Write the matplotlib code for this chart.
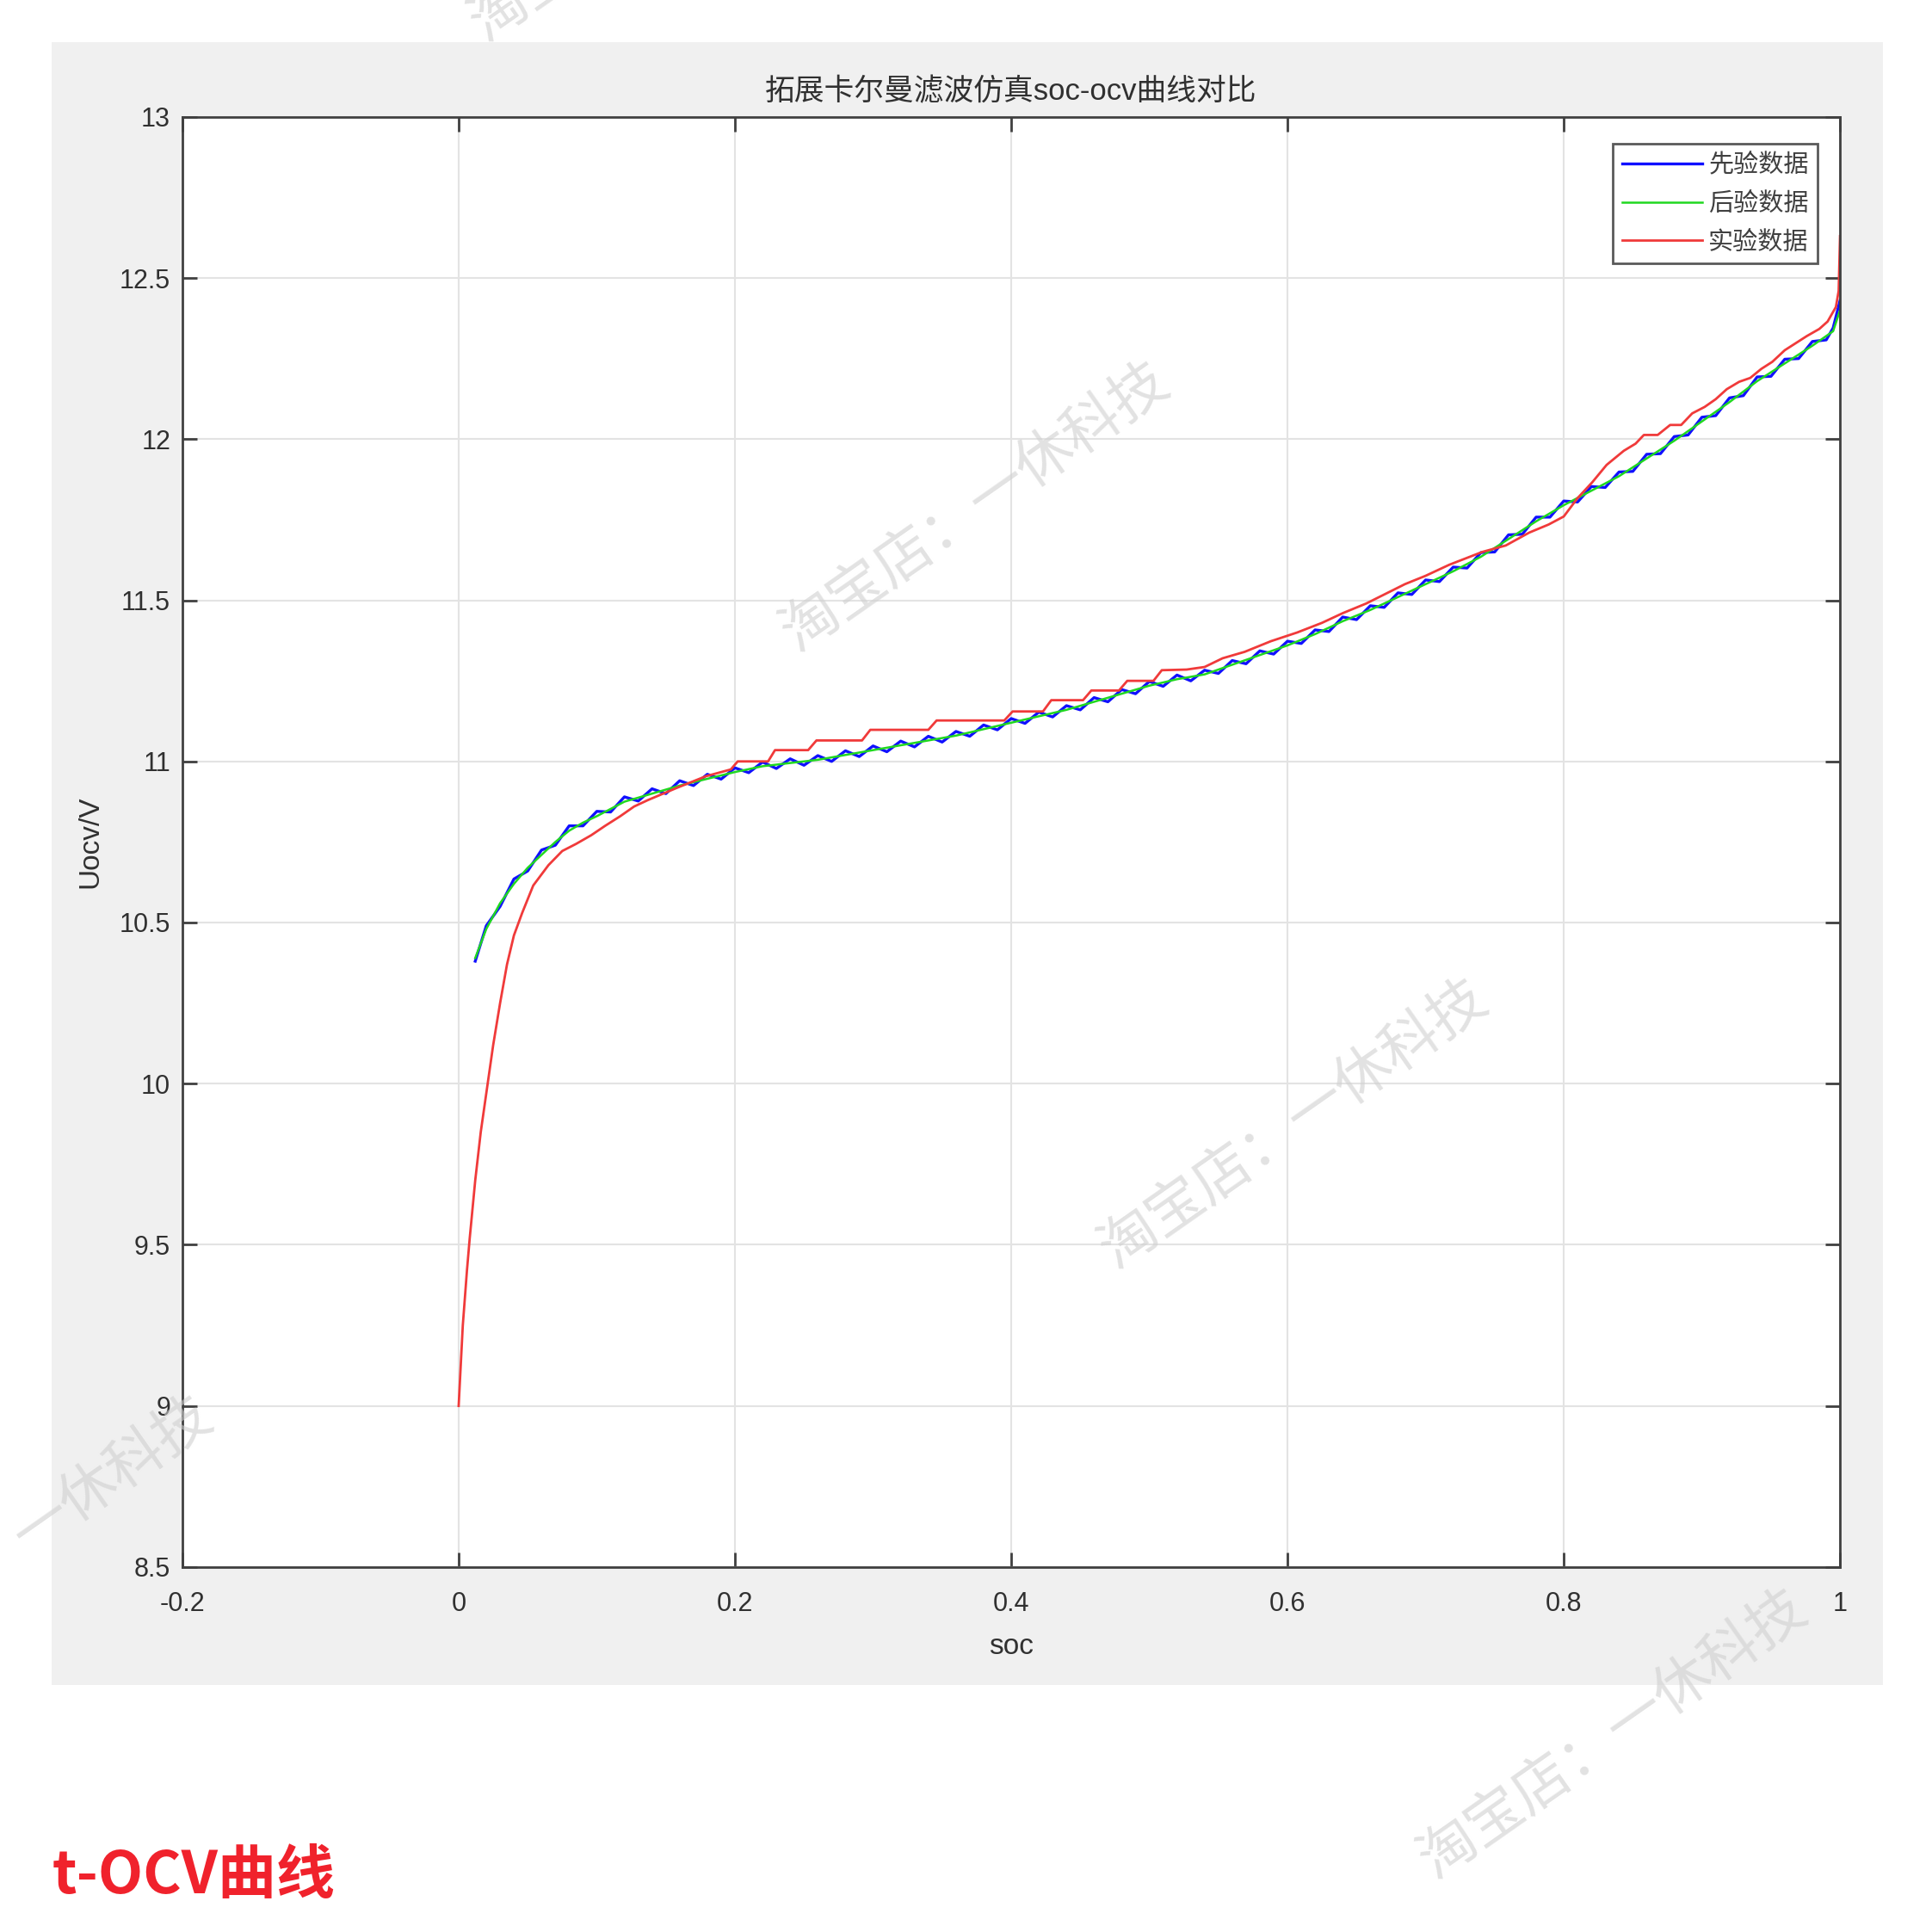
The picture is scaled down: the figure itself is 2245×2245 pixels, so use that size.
import numpy as np
import matplotlib
matplotlib.use('Agg')
import matplotlib.pyplot as plt
from matplotlib.patches import Rectangle

plt.rcParams['font.family'] = ['Liberation Sans', 'Noto Sans CJK SC', 'DejaVu Sans']

# 先验数据 (蓝色, 带噪声)
prior_soc = [0.012, 0.02, 0.03, 0.04, 0.05, 0.06, 0.07, 0.08, 0.09, 0.10,
             0.11, 0.12, 0.13, 0.14, 0.15, 0.16, 0.17, 0.18, 0.19, 0.20,
             0.21, 0.22, 0.23, 0.24, 0.25, 0.26, 0.27, 0.28, 0.29, 0.30,
             0.31, 0.32, 0.33, 0.34, 0.35, 0.36, 0.37, 0.38, 0.39, 0.40,
             0.41, 0.42, 0.43, 0.44, 0.45, 0.46, 0.47, 0.48, 0.49, 0.50,
             0.51, 0.52, 0.53, 0.54, 0.55, 0.56, 0.57, 0.58, 0.59, 0.60,
             0.61, 0.62, 0.63, 0.64, 0.65, 0.66, 0.67, 0.68, 0.69, 0.70,
             0.71, 0.72, 0.73, 0.74, 0.75, 0.76, 0.77, 0.78, 0.79, 0.80,
             0.81, 0.82, 0.83, 0.84, 0.85, 0.86, 0.87, 0.88, 0.89, 0.90,
             0.91, 0.92, 0.93, 0.94, 0.95, 0.96, 0.97, 0.98, 0.99, 0.995, 1.0]
prior_v = [10.38, 10.49, 10.55, 10.635, 10.66, 10.725, 10.74, 10.80, 10.80, 10.845,
           10.843, 10.89, 10.877, 10.915, 10.90, 10.94, 10.925, 10.96, 10.945, 10.98,
           10.965, 10.998, 10.978, 11.008, 10.988, 11.018, 11.0, 11.033, 11.015, 11.048,
           11.03, 11.063, 11.045, 11.078, 11.06, 11.093, 11.078, 11.113, 11.098, 11.133,
           11.118, 11.153, 11.138, 11.173, 11.16, 11.198, 11.185, 11.223, 11.21, 11.248,
           11.233, 11.268, 11.25, 11.283, 11.273, 11.313, 11.303, 11.343, 11.333, 11.373,
           11.366, 11.408, 11.403, 11.448, 11.44, 11.483, 11.478, 11.523, 11.518, 11.563,
           11.558, 11.603, 11.60, 11.648, 11.65, 11.703, 11.705, 11.758, 11.758, 11.808,
           11.805, 11.853, 11.85, 11.898, 11.90, 11.953, 11.955, 12.008, 12.013, 12.068,
           12.073, 12.128, 12.135, 12.193, 12.195, 12.248, 12.25, 12.303, 12.308, 12.345, 12.43]

# 后验数据 (绿色)
post_soc = [0.012, 0.02, 0.03, 0.04, 0.05, 0.06, 0.07, 0.08, 0.09, 0.10,
            0.12, 0.14, 0.16, 0.18, 0.20, 0.22, 0.24, 0.26, 0.28, 0.30,
            0.32, 0.34, 0.36, 0.38, 0.40, 0.42, 0.44, 0.46, 0.48, 0.50,
            0.52, 0.54, 0.56, 0.58, 0.60, 0.62, 0.64, 0.66, 0.68, 0.70,
            0.72, 0.74, 0.76, 0.78, 0.80, 0.82, 0.84, 0.86, 0.88, 0.90,
            0.92, 0.94, 0.96, 0.98, 0.995, 1.0]
post_v = [10.39, 10.48, 10.56, 10.62, 10.67, 10.71, 10.75, 10.785, 10.81, 10.83,
          10.875, 10.90, 10.925, 10.946, 10.967, 10.985, 10.995, 11.005, 11.02, 11.035,
          11.05, 11.065, 11.08, 11.10, 11.12, 11.14, 11.16, 11.185, 11.21, 11.235,
          11.255, 11.27, 11.30, 11.33, 11.36, 11.395, 11.435, 11.47, 11.51, 11.55,
          11.59, 11.635, 11.69, 11.745, 11.795, 11.84, 11.885, 11.94, 11.995, 12.055,
          12.115, 12.18, 12.235, 12.29, 12.335, 12.40]

# 实验数据 (红色, 阶梯状)
exp_soc = [0.0, 0.003, 0.006, 0.008, 0.012, 0.016, 0.020, 0.025, 0.030, 0.035,
           0.040, 0.046, 0.054, 0.065, 0.075, 0.085, 0.096, 0.106, 0.117, 0.127,
           0.137, 0.158, 0.179, 0.197, 0.202, 0.224, 0.229, 0.253, 0.259, 0.292,
           0.298, 0.340, 0.346, 0.395, 0.401, 0.423, 0.429, 0.452, 0.458, 0.478,
           0.484, 0.503, 0.509, 0.527, 0.540, 0.553, 0.569, 0.588, 0.607, 0.625,
           0.640, 0.657, 0.671, 0.685, 0.700, 0.717, 0.729, 0.741, 0.758, 0.775,
           0.789, 0.800, 0.810, 0.8206, 0.831, 0.8435, 0.852, 0.858, 0.868, 0.877,
           0.885, 0.893, 0.902, 0.910, 0.918, 0.927, 0.935, 0.943, 0.951, 0.960,
           0.968, 0.976, 0.985, 0.991, 0.997, 0.999, 1.0]
exp_v = [9.00, 9.25, 9.42, 9.52, 9.70, 9.85, 9.97, 10.12, 10.25, 10.37,
         10.46, 10.53, 10.615, 10.678, 10.722, 10.744, 10.771, 10.80, 10.83, 10.86,
         10.88, 10.918, 10.954, 10.975, 11.0, 11.0, 11.035, 11.035, 11.065, 11.065,
         11.098, 11.098, 11.127, 11.127, 11.155, 11.155, 11.19, 11.19, 11.22, 11.22,
         11.25, 11.25, 11.283, 11.285, 11.293, 11.32, 11.34, 11.373, 11.40, 11.43,
         11.46, 11.49, 11.52, 11.55, 11.576, 11.61, 11.63, 11.65, 11.67, 11.71,
         11.735, 11.76, 11.817, 11.866, 11.92, 11.964, 11.986, 12.013, 12.013, 12.044,
         12.044, 12.08, 12.10, 12.124, 12.155, 12.178, 12.19, 12.218, 12.24, 12.276,
         12.298, 12.32, 12.342, 12.365, 12.41, 12.46, 12.63]

x_ticks = [-0.2, 0, 0.2, 0.4, 0.6, 0.8, 1]
x_tick_labels = ['-0.2', '0', '0.2', '0.4', '0.6', '0.8', '1']
y_ticks = [8.5, 9, 9.5, 10, 10.5, 11, 11.5, 12, 12.5, 13]
y_tick_labels = ['8.5', '9', '9.5', '10', '10.5', '11', '11.5', '12', '12.5', '13']

fig = plt.figure(figsize=(22.45, 22.45), dpi=100, facecolor='white')

# MATLAB 风格的灰色底板
fig.patches.append(Rectangle((0.0268, 0.128), 0.948, 0.850, transform=fig.transFigure,
                             facecolor='#f0f0f0', edgecolor='none', zorder=-5))

ax = fig.add_axes([0.0944, 0.1889, 0.858, 0.7506])
ax.set_facecolor('white')

ax.plot(prior_soc, prior_v, color='#1010ff', linewidth=2.4, label='先验数据')
ax.plot(post_soc, post_v, color='#20d820', linewidth=1.8, label='后验数据')
ax.plot(exp_soc, exp_v, color='#f03a3a', linewidth=2.0, label='实验数据')

ax.set_xlim(-0.2, 1)
ax.set_ylim(8.5, 13)
ax.set_xticks(x_ticks)
ax.set_xticklabels(x_tick_labels)
ax.set_yticks(y_ticks)
ax.set_yticklabels(y_tick_labels)

ax.grid(True, color='#e3e3e3', linewidth=1.5)
ax.set_axisbelow(True)
for s in ax.spines.values():
    s.set_color('#404040')
    s.set_linewidth(2)
ax.tick_params(direction='in', top=True, right=True, length=12, width=2,
               color='#404040', labelsize=22, labelcolor='#303030')
ax.tick_params(axis='x', pad=20)
ax.tick_params(axis='y', pad=10)

ax.set_xlabel('soc', fontsize=24, color='#303030', labelpad=14)
ax.set_ylabel('Uocv/V', fontsize=24, color='#303030', labelpad=13)
ax.set_title('拓展卡尔曼滤波仿真soc-ocv曲线对比', fontsize=25, color='#303030', pad=14)

leg = ax.legend(loc='upper right', fontsize=21, frameon=True, fancybox=False,
                edgecolor='#303030', handlelength=3.2, handletextpad=0.25,
                borderpad=0.36, labelspacing=0.58, borderaxespad=0,
                bbox_to_anchor=(0.9866, 0.9813))
leg.get_frame().set_linewidth(2)
for t in leg.get_texts():
    t.set_color('#404040')

# 水印
wm = '淘宝店：一休科技'
for cx, cy in [(0.505, 0.737), (0.670, 0.418), (0.835, 0.102), (0.344, 1.053)]:
    fig.text(cx, cy, wm, fontsize=48, color='#cfcfcf', alpha=0.6, rotation=35,
             rotation_mode='anchor', ha='center', va='center', zorder=10,
             family=['Noto Sans CJK SC'])
fig.text(0.058, 0.236, '一休科技', fontsize=48, color='#cfcfcf', alpha=0.6, rotation=35,
         rotation_mode='anchor', ha='center', va='center', zorder=10,
         family=['Noto Sans CJK SC'])

fig.text(0.0268, 0.0287, 't-OCV曲线', fontsize=49, color='#f0222c', fontweight='bold',
         ha='left', va='center', family=['Noto Sans CJK SC'])

fig.savefig('out.png', dpi=100, facecolor='white')
